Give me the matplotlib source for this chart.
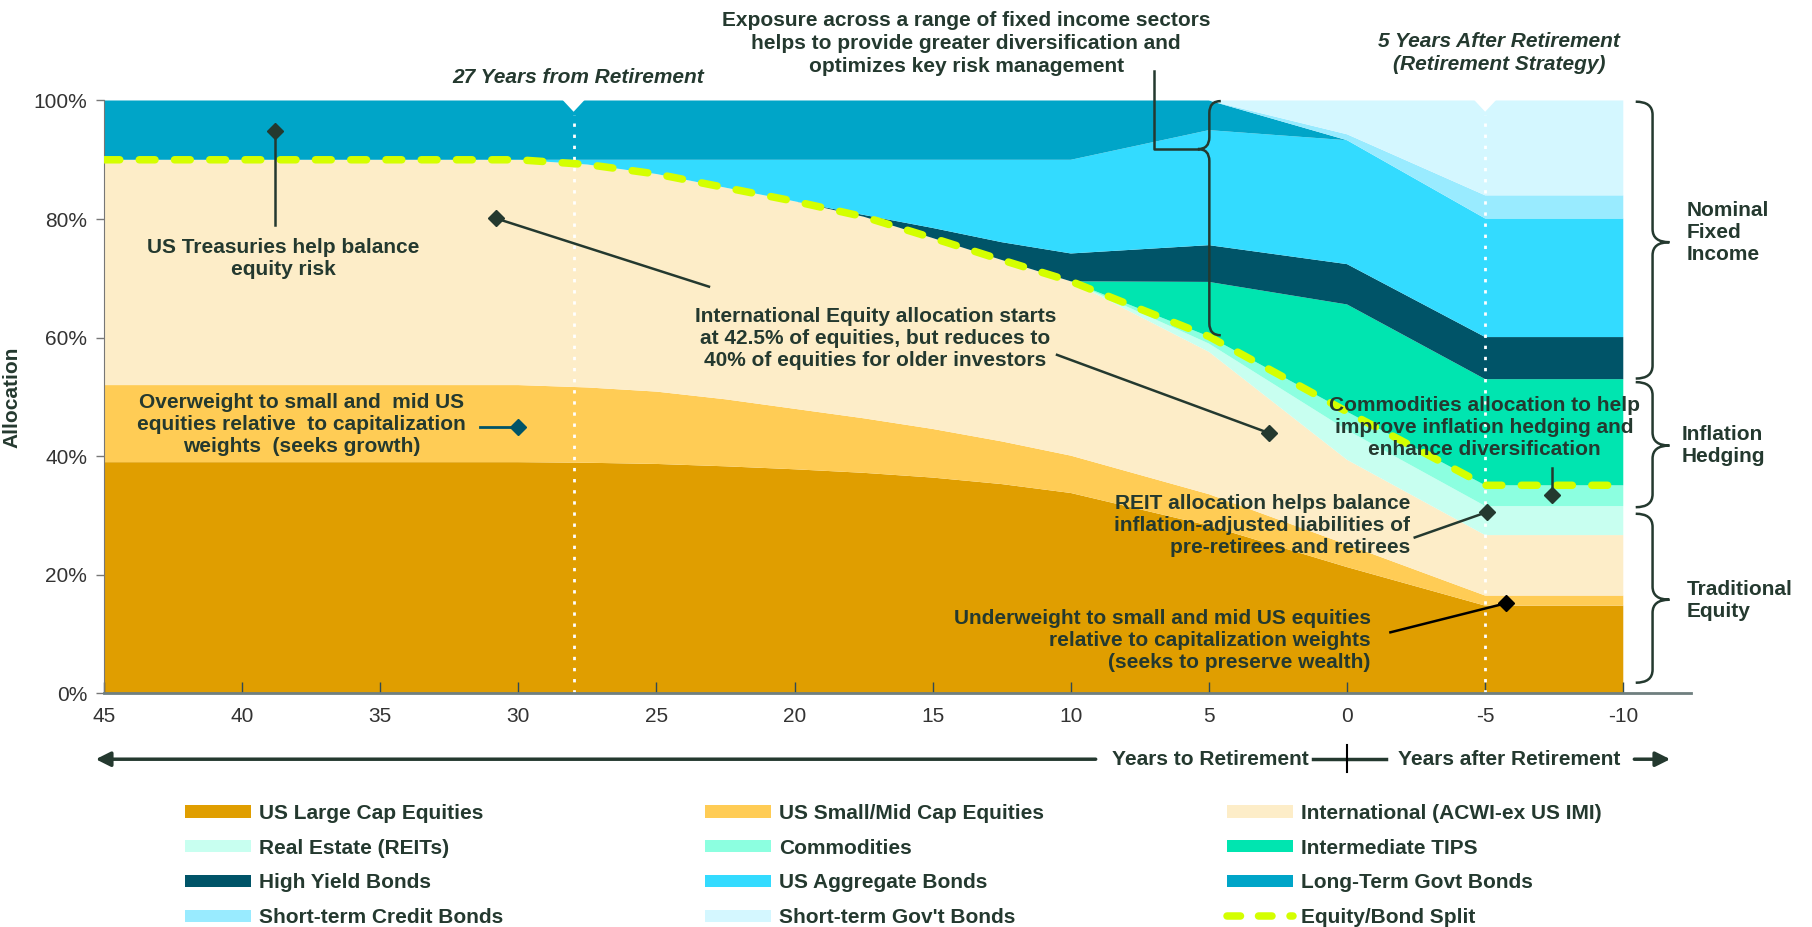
import numpy as np
import matplotlib
matplotlib.use("Agg")
import matplotlib.pyplot as plt
from matplotlib.path import Path
from matplotlib.patches import PathPatch, Patch
from matplotlib.lines import Line2D

plt.rcParams['font.family'] = ['Liberation Sans', 'DejaVu Sans']
plt.rcParams['axes.unicode_minus'] = False

# glide path, years to retirement (negative = after retirement), % allocation
years = [45, 40, 35, 30, 27.5, 25, 22.5, 20, 17.5, 15, 12.5, 10, 5, 0, -5, -10]
large_cap = [39.0, 39.0, 39.0, 39.0, 38.9, 38.7, 38.3, 37.8, 37.2, 36.4, 35.3, 33.8, 28.3, 21.3, 14.8, 14.8]
small_mid = [13.0, 13.0, 13.0, 13.0, 12.7, 12.2, 11.3, 10.2, 9.2, 8.2, 7.2, 6.3, 5.3, 3.8, 1.7, 1.7]
intl = [38.0, 38.0, 38.0, 38.0, 37.6, 36.7, 35.7, 35.0, 34.0, 32.2, 30.6, 29.4, 24.0, 14.3, 10.2, 10.2]
reits = [0, 0, 0, 0, 0, 0, 0, 0, 0, 0, 0, 0, 1.4, 5.0, 4.9, 4.9]
commodities = [0, 0, 0, 0, 0, 0, 0, 0, 0, 0, 0, 0, 1.2, 3.1, 3.5, 3.5]
tips = [0, 0, 0, 0, 0, 0, 0, 0, 0, 0, 0, 0, 9.2, 18.1, 17.9, 17.9]
high_yield = [0, 0, 0, 0, 0, 0, 0, 0, 0.3, 1.7, 3.0, 4.7, 6.2, 6.8, 7.1, 7.1]
us_agg = [0, 0, 0, 0, 0.8, 2.4, 4.7, 7.0, 9.3, 11.5, 13.9, 15.8, 19.4, 20.9, 20.0, 20.0]
long_govt = [10, 10, 10, 10, 10, 10, 10, 10, 10, 10, 10, 10, 5.0, 0, 0, 0]
st_credit = [0, 0, 0, 0, 0, 0, 0, 0, 0, 0, 0, 0, 0, 1.0, 3.9, 3.9]
st_govt = [0, 0, 0, 0, 0, 0, 0, 0, 0, 0, 0, 0, 0, 5.7, 16.0, 16.0]

labels = ['US Large Cap Equities', 'US Small/Mid Cap Equities', 'International (ACWI-ex US IMI)',
          'Real Estate (REITs)', 'Commodities', 'Intermediate TIPS',
          'High Yield Bonds', 'US Aggregate Bonds', 'Long-Term Govt Bonds',
          'Short-term Credit Bonds', "Short-term Gov't Bonds"]
colors = ['#E09E00', '#FFCC55', '#FDEDC8', '#C8FFF0', '#8CFFE0', '#00E5B0',
          '#005468', '#33DBFF', '#00A5C8', '#99EBFF', '#D4F7FF']
split_color = '#D4FF00'
dark = '#24392F'

layers = [large_cap, small_mid, intl, reits, commodities, tips,
          high_yield, us_agg, long_govt, st_credit, st_govt]
equity = np.sum(np.array(layers[:5]), axis=0)

fig = plt.figure(figsize=(18.12, 9.27), dpi=100)
ax = fig.add_axes([0.0574, 0.252, 0.8758, 0.6396])

ax.stackplot(years, *layers, colors=colors, linewidth=0, zorder=1)
ax.plot(years, equity, color=split_color, lw=5.4, dashes=(2.1, 2.6),
        dash_capstyle='round', zorder=3)

ax.set_xlim(45, -12.45)
ax.set_ylim(0, 100)
ax.set_xticks(np.arange(45, -11, -5))
ax.set_yticks(np.arange(0, 101, 20))
ax.set_yticklabels([f'{v}%' for v in range(0, 101, 20)])
ax.tick_params(axis='x', direction='in', length=8, width=1, color='#2f4a55',
               labelsize=15, labelcolor='#333333', pad=10)
ax.tick_params(axis='y', direction='out', length=6, width=1, color='#777777',
               labelsize=15, labelcolor='#333333', pad=6)
for s in ['top', 'right']:
    ax.spines[s].set_visible(False)
ax.spines['left'].set_color('#777777')
ax.spines['bottom'].set_color('#6f7f7f')
ax.spines['bottom'].set_linewidth(2)
ax.set_ylabel('Allocation', fontsize=15, fontweight='bold', color=dark)
ax.yaxis.set_label_coords(-0.052, 0.5)

# white dotted markers with notch at top
for yr in [28, -5]:
    ax.plot([yr, yr], [0, 97.5], color='white', lw=2, ls=(0, (1.2, 2.8)), zorder=2)
    ax.fill([yr - 0.42, yr + 0.42, yr], [100.2, 100.2, 98.1], color='white', lw=0, zorder=2)

# annotations
tkw = dict(fontsize=15, fontweight='bold', color=dark, zorder=6)
lkw = dict(color=dark, lw=1.8, zorder=5, clip_on=False)

ax.plot([38.8, 38.8], [94.9, 79.0], **lkw)
ax.plot([38.8], [94.9], marker='D', ms=8, color=dark, zorder=5)
ax.text(38.5, 73.3, 'US Treasuries help balance\nequity risk', ha='center', va='center', **tkw)

ax.text(37.85, 45.4, 'Overweight to small and  mid US\nequities relative  to capitalization\nweights  (seeks growth)',
        ha='center', va='center', **tkw)
ax.plot([31.4, 30.0], [45.0, 45.0], color='#005468', lw=2, zorder=5)
ax.plot([30.0], [45.0], marker='D', ms=8, color='#005468', zorder=5)

ax.text(17.07, 59.8, 'International Equity allocation starts\nat 42.5% of equities, but reduces to\n40% of equities for older investors',
        ha='center', va='center', **tkw)
ax.plot([30.8, 23.1], [80.1, 68.6], **lkw)
ax.plot([30.8], [80.1], marker='D', ms=8, color=dark, zorder=5)
ax.plot([10.5, 2.82], [57.1, 43.9], **lkw)
ax.plot([2.82], [43.9], marker='D', ms=8, color=dark, zorder=5)

ax.text(-4.98, 44.8, 'Commodities allocation to help\nimprove inflation hedging and\nenhance diversification',
        ha='center', va='center', **tkw)
ax.plot([-7.43, -7.43], [38.0, 33.5], **lkw)
ax.plot([-7.43], [33.5], marker='D', ms=8, color=dark, zorder=5)

ax.text(-2.28, 28.3, 'REIT allocation helps balance\ninflation-adjusted liabilities of\npre-retirees and retirees',
        ha='right', va='center', multialignment='right', **tkw)
ax.plot([-2.45, -5.08], [26.3, 30.6], **lkw)
ax.plot([-5.08], [30.6], marker='D', ms=8, color=dark, zorder=5)

ax.text(-0.86, 9.0, 'Underweight to small and mid US equities\nrelative to capitalization weights\n(seeks to preserve wealth)',
        ha='right', va='center', multialignment='right', **tkw)
ax.plot([-1.57, -5.75], [10.3, 15.2], color='black', lw=1.8, zorder=5)
ax.plot([-5.75], [15.2], marker='D', ms=8, color='black', zorder=5)

# headers above the plot
ax.text(27.85, 103.9, '27 Years from Retirement', ha='center', va='center', fontstyle='italic',
        clip_on=False, **tkw)
ax.text(-5.5, 108.0, '5 Years After Retirement\n(Retirement Strategy)', ha='center', va='center',
        fontstyle='italic', linespacing=1.25, clip_on=False, **tkw)
ax.text(13.79, 109.6, 'Exposure across a range of fixed income sectors\nhelps to provide greater diversification and\noptimizes key risk management',
        ha='center', va='center', linespacing=1.25, clip_on=False, **tkw)


def brace(x_end, x_tip, y_top, y_bot, y_mid, r=2.2):
    xs = (x_end + x_tip) / 2
    verts = [(x_end, y_top), (xs, y_top), (xs, y_top - r),
             (xs, y_mid + r), (xs, y_mid), (x_tip, y_mid),
             (xs, y_mid), (xs, y_mid - r),
             (xs, y_bot + r), (xs, y_bot), (x_end, y_bot)]
    codes = [Path.MOVETO, Path.CURVE3, Path.CURVE3, Path.LINETO, Path.CURVE3, Path.CURVE3,
             Path.CURVE3, Path.CURVE3, Path.LINETO, Path.CURVE3, Path.CURVE3]
    ax.add_patch(PathPatch(Path(verts, codes), fill=False, edgecolor=dark, lw=1.8,
                           clip_on=False, zorder=5))


brace(4.57, 5.4, 99.9, 60.4, 91.8, r=2.0)
ax.plot([5.4, 7.0, 7.0], [91.8, 91.8, 104.9], **lkw)

brace(-10.45, -11.67, 99.8, 53.1, 76.1)
brace(-10.45, -11.67, 52.5, 31.4, 41.8)
brace(-10.45, -11.67, 30.3, 1.8, 15.8)
ax.text(-12.3, 77.8, 'Nominal\nFixed\nIncome', ha='left', va='center', clip_on=False, **tkw)
ax.text(-12.1, 41.8, 'Inflation\nHedging', ha='left', va='center', clip_on=False, **tkw)
ax.text(-12.3, 15.6, 'Traditional\nEquity', ha='left', va='center', clip_on=False, **tkw)

# years to / after retirement arrows
xt = ax.get_xaxis_transform()
yb = -0.111
akw = dict(arrowstyle='-|>', lw=2.5, color=dark, mutation_scale=22, shrinkA=0, shrinkB=0)
ax.annotate('', xy=(45.3, yb), xytext=(9.1, yb), xycoords=xt, textcoords=xt, arrowprops=akw)
ax.annotate('', xy=(-11.7, yb), xytext=(-10.4, yb), xycoords=xt, textcoords=xt, arrowprops=akw)
ax.plot([1.23, -1.4], [yb, yb], color=dark, lw=2.5, transform=xt, clip_on=False)
ax.plot([0, 0], [-0.0877, -0.133], color='black', lw=1.5, transform=xt, clip_on=False)
ax.text(1.4, yb, 'Years to Retirement', ha='right', va='center', transform=xt, **tkw)
ax.text(-1.86, yb, 'Years after Retirement', ha='left', va='center', transform=xt, **tkw)

# legend, three columns
handles = [Patch(facecolor=c, edgecolor='none') for c in colors]
handles.append(Line2D([], [], color=split_color, lw=5.4, dashes=(1.8, 2.4), dash_capstyle='round'))
names = labels + ['Equity/Bond Split']
for i, x0 in enumerate([0.1023, 0.3893, 0.6773]):
    idx = [i, i + 3, i + 6, i + 9]
    fig.legend([handles[k] for k in idx], [names[k] for k in idx], loc='upper left',
               bbox_to_anchor=(x0, 0.133), frameon=False, ncol=1, borderpad=0, borderaxespad=0,
               handlelength=3.15, handleheight=0.55, handletextpad=0.4, labelspacing=0.76,
               prop=dict(size=15, weight='bold'), labelcolor=dark)

fig.savefig('out.png', dpi=100)
